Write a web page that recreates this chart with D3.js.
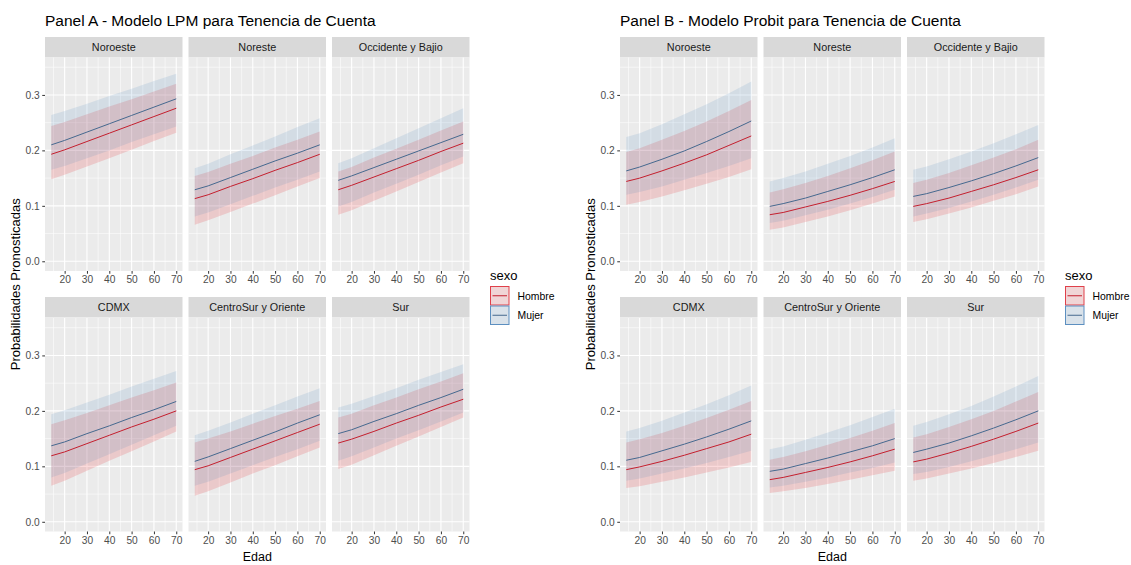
<!DOCTYPE html>
<html>
<head>
<meta charset="utf-8">
<script src="https://cdn.jsdelivr.net/npm/d3@7"></script>
<style>
  body { margin: 0; background: #fff; }
  svg { display: block; font-family: "Liberation Sans", Arial, sans-serif; }
</style>
</head>
<body>
<svg width="1131" height="565"></svg>
<script>
// data (rows follow the regions order)
const ages = [14, 20, 30, 40, 50, 60, 70];
const regions = ["Noroeste", "Noreste", "Occidente y Bajio", "CDMX", "CentroSur y Oriente", "Sur"];
const sexes = ["Hombre", "Mujer"];
const xTicks = [20, 30, 40, 50, 60, 70];
const yTicks = [0, 0.1, 0.2, 0.3];

// Panel A - LPM
const lpmHombreFit = [
  [0.193, 0.201, 0.216, 0.231, 0.246, 0.261, 0.276],
  [0.113, 0.120, 0.135, 0.149, 0.164, 0.178, 0.193],
  [0.129, 0.137, 0.152, 0.167, 0.182, 0.198, 0.213],
  [0.119, 0.126, 0.141, 0.156, 0.171, 0.185, 0.200],
  [0.094, 0.101, 0.116, 0.131, 0.146, 0.161, 0.176],
  [0.142, 0.149, 0.163, 0.178, 0.192, 0.207, 0.221]
];
const lpmHombreLo = [
  [0.148, 0.156, 0.171, 0.186, 0.201, 0.217, 0.232],
  [0.066, 0.074, 0.089, 0.104, 0.119, 0.135, 0.150],
  [0.084, 0.092, 0.109, 0.126, 0.143, 0.160, 0.177],
  [0.065, 0.074, 0.092, 0.110, 0.127, 0.145, 0.163],
  [0.047, 0.055, 0.071, 0.087, 0.102, 0.118, 0.134],
  [0.095, 0.103, 0.120, 0.137, 0.154, 0.171, 0.188]
];
const lpmHombreHi = [
  [0.244, 0.251, 0.265, 0.279, 0.292, 0.306, 0.320],
  [0.154, 0.161, 0.176, 0.190, 0.205, 0.219, 0.234],
  [0.162, 0.170, 0.187, 0.203, 0.219, 0.236, 0.252],
  [0.176, 0.183, 0.196, 0.210, 0.224, 0.237, 0.251],
  [0.143, 0.150, 0.163, 0.177, 0.191, 0.204, 0.218],
  [0.188, 0.195, 0.210, 0.224, 0.239, 0.253, 0.268]
];
const lpmMujerFit = [
  [0.210, 0.218, 0.233, 0.248, 0.263, 0.278, 0.293],
  [0.129, 0.136, 0.151, 0.166, 0.181, 0.195, 0.210],
  [0.146, 0.154, 0.169, 0.184, 0.199, 0.214, 0.229],
  [0.137, 0.144, 0.159, 0.173, 0.188, 0.202, 0.217],
  [0.109, 0.117, 0.132, 0.147, 0.162, 0.178, 0.193],
  [0.159, 0.166, 0.181, 0.195, 0.210, 0.224, 0.239]
];
const lpmMujerLo = [
  [0.165, 0.172, 0.186, 0.200, 0.215, 0.229, 0.243],
  [0.081, 0.088, 0.103, 0.118, 0.133, 0.147, 0.162],
  [0.099, 0.107, 0.124, 0.140, 0.156, 0.173, 0.189],
  [0.080, 0.088, 0.105, 0.122, 0.139, 0.156, 0.173],
  [0.065, 0.072, 0.087, 0.102, 0.117, 0.131, 0.146],
  [0.110, 0.118, 0.134, 0.150, 0.165, 0.181, 0.197]
];
const lpmMujerHi = [
  [0.264, 0.271, 0.284, 0.298, 0.311, 0.325, 0.338],
  [0.168, 0.176, 0.193, 0.209, 0.225, 0.242, 0.258],
  [0.177, 0.186, 0.204, 0.222, 0.240, 0.258, 0.276],
  [0.194, 0.201, 0.215, 0.229, 0.244, 0.258, 0.272],
  [0.156, 0.164, 0.179, 0.195, 0.210, 0.226, 0.241],
  [0.206, 0.213, 0.227, 0.241, 0.256, 0.270, 0.284]
];

// Panel B - Probit
const probitHombreFit = [
  [0.144, 0.150, 0.163, 0.177, 0.192, 0.209, 0.226],
  [0.084, 0.088, 0.098, 0.108, 0.119, 0.131, 0.144],
  [0.099, 0.104, 0.114, 0.126, 0.138, 0.151, 0.165],
  [0.094, 0.099, 0.109, 0.120, 0.132, 0.144, 0.158],
  [0.076, 0.080, 0.089, 0.098, 0.108, 0.119, 0.131],
  [0.108, 0.113, 0.124, 0.136, 0.149, 0.163, 0.178]
];
const probitHombreLo = [
  [0.102, 0.107, 0.117, 0.128, 0.140, 0.152, 0.166],
  [0.057, 0.061, 0.071, 0.081, 0.092, 0.104, 0.117],
  [0.071, 0.076, 0.086, 0.097, 0.109, 0.121, 0.135],
  [0.061, 0.064, 0.072, 0.080, 0.089, 0.098, 0.108],
  [0.052, 0.055, 0.061, 0.068, 0.076, 0.084, 0.092],
  [0.074, 0.078, 0.087, 0.096, 0.106, 0.117, 0.128]
];
const probitHombreHi = [
  [0.197, 0.204, 0.219, 0.235, 0.252, 0.271, 0.291],
  [0.124, 0.130, 0.141, 0.154, 0.168, 0.182, 0.198],
  [0.141, 0.147, 0.159, 0.173, 0.187, 0.202, 0.219],
  [0.143, 0.149, 0.160, 0.173, 0.187, 0.202, 0.218],
  [0.112, 0.117, 0.127, 0.139, 0.151, 0.164, 0.178],
  [0.152, 0.158, 0.171, 0.185, 0.200, 0.217, 0.234]
];
const probitMujerFit = [
  [0.163, 0.170, 0.184, 0.199, 0.216, 0.234, 0.253],
  [0.099, 0.104, 0.114, 0.126, 0.138, 0.151, 0.165],
  [0.117, 0.122, 0.133, 0.145, 0.158, 0.172, 0.187],
  [0.111, 0.116, 0.128, 0.140, 0.153, 0.167, 0.182],
  [0.091, 0.095, 0.105, 0.115, 0.126, 0.137, 0.150],
  [0.125, 0.131, 0.142, 0.155, 0.169, 0.184, 0.200]
];
const probitMujerLo = [
  [0.120, 0.125, 0.135, 0.147, 0.159, 0.172, 0.186],
  [0.069, 0.073, 0.083, 0.093, 0.104, 0.116, 0.129],
  [0.081, 0.086, 0.096, 0.108, 0.120, 0.133, 0.147],
  [0.074, 0.078, 0.087, 0.096, 0.106, 0.117, 0.128],
  [0.062, 0.065, 0.072, 0.080, 0.089, 0.097, 0.107],
  [0.086, 0.090, 0.099, 0.109, 0.120, 0.131, 0.143]
];
const probitMujerHi = [
  [0.224, 0.231, 0.247, 0.265, 0.283, 0.303, 0.324],
  [0.144, 0.150, 0.162, 0.176, 0.190, 0.205, 0.222],
  [0.165, 0.171, 0.184, 0.198, 0.213, 0.229, 0.246],
  [0.163, 0.169, 0.182, 0.197, 0.212, 0.228, 0.246],
  [0.131, 0.136, 0.148, 0.161, 0.174, 0.189, 0.204],
  [0.173, 0.180, 0.194, 0.209, 0.226, 0.244, 0.263]
];

const lineColor = { Hombre: "#C41F2E", Mujer: "#46698F" };
const fillColor = { Hombre: "#E41A1C", Mujer: "#377EB8" };
const keyBorder = { Hombre: "#E0404A", Mujer: "#5C8FC0" };

const svg = d3.select("svg");

// layout
const colX = [45, 188.5, 332];
const colW = 137.5;
const stripY = [37, 297];
const stripH = 20.5;
const panelY = [57.5, 318];
const panelH = 213.5;

const x = d3.scaleLinear().domain([14 - 2.8, 70 + 2.8]).range([0, colW]);
const y = d3.scaleLinear().domain([-0.0175, 0.3675]).range([panelH, 0]);

function makeSeries(fit, lo, hi) {
  return regions.map((r, ri) => ages.map((a, i) => ({ age: a, fit: fit[ri][i], lo: lo[ri][i], hi: hi[ri][i] })));
}

function drawPanel(offsetX, title, series) {
  const g = svg.append("g").attr("transform", `translate(${offsetX},0)`);

  g.append("text")
    .attr("x", 45).attr("y", 26)
    .attr("font-size", 15.5)
    .attr("fill", "#000")
    .text(title);

  const area = d3.area().x(d => x(d.age)).y0(d => y(d.lo)).y1(d => y(d.hi));
  const line = d3.line().x(d => x(d.age)).y(d => y(d.fit));

  regions.forEach((region, ri) => {
    const col = ri % 3, row = Math.floor(ri / 3);
    const px = colX[col], py = panelY[row];

    // strip
    g.append("rect")
      .attr("x", px).attr("y", stripY[row])
      .attr("width", colW).attr("height", stripH)
      .attr("fill", "#D9D9D9");
    g.append("text")
      .attr("x", px + colW / 2).attr("y", stripY[row] + stripH / 2)
      .attr("dy", "0.35em")
      .attr("text-anchor", "middle")
      .attr("font-size", 10.8)
      .attr("fill", "#1A1A1A")
      .text(region);

    const p = g.append("g").attr("transform", `translate(${px},${py})`);
    p.append("rect").attr("width", colW).attr("height", panelH).attr("fill", "#EBEBEB");

    // grid
    p.selectAll(".hmin").data(d3.range(0.05, 0.36, 0.1)).join("line")
      .attr("x1", 0).attr("x2", colW)
      .attr("y1", d => y(d)).attr("y2", d => y(d))
      .attr("stroke", "#fff").attr("stroke-width", 0.55);
    p.selectAll(".vmin").data(d3.range(15, 70, 10)).join("line")
      .attr("y1", 0).attr("y2", panelH)
      .attr("x1", d => x(d)).attr("x2", d => x(d))
      .attr("stroke", "#fff").attr("stroke-width", 0.55);
    p.selectAll(".hmaj").data(yTicks).join("line")
      .attr("x1", 0).attr("x2", colW)
      .attr("y1", d => y(d)).attr("y2", d => y(d))
      .attr("stroke", "#fff").attr("stroke-width", 1.1);
    p.selectAll(".vmaj").data(xTicks).join("line")
      .attr("y1", 0).attr("y2", panelH)
      .attr("x1", d => x(d)).attr("x2", d => x(d))
      .attr("stroke", "#fff").attr("stroke-width", 1.1);

    // ribbons
    sexes.forEach(s => {
      p.append("path")
        .datum(series[s][ri])
        .attr("d", area)
        .attr("fill", fillColor[s])
        .attr("fill-opacity", s === "Hombre" ? 0.16 : 0.13);
    });
    // lines
    sexes.forEach(s => {
      p.append("path")
        .datum(series[s][ri])
        .attr("d", line)
        .attr("fill", "none")
        .attr("stroke", lineColor[s])
        .attr("stroke-width", 1);
    });

    // x axis on every facet
    const xa = p.append("g")
      .attr("transform", `translate(0,${panelH})`)
      .call(d3.axisBottom(x).tickValues(xTicks).tickSize(2.75).tickPadding(2.5));
    styleAxis(xa);

    // y axis on the left column
    if (col === 0) {
      const ya = p.append("g")
        .call(d3.axisLeft(y).tickValues(yTicks).tickFormat(d3.format(".1f")).tickSize(2.75).tickPadding(2.5));
      styleAxis(ya);
    }
  });

  // axis titles
  g.append("text")
    .attr("transform", `translate(15,${(stripY[0] + panelY[1] + panelH) / 2}) rotate(-90)`)
    .attr("dy", "0.35em")
    .attr("text-anchor", "middle")
    .attr("font-size", 13)
    .attr("fill", "#000")
    .text("Probabilidades Pronosticadas");
  g.append("text")
    .attr("x", (colX[0] + colX[2] + colW) / 2).attr("y", 561)
    .attr("text-anchor", "middle")
    .attr("font-size", 12.5)
    .attr("fill", "#000")
    .text("Edad");

  // legend
  const lg = g.append("g").attr("transform", "translate(490,268)");
  lg.append("text").attr("x", 0).attr("y", 11.5).attr("font-size", 13).attr("fill", "#000").text("sexo");
  sexes.forEach((s, i) => {
    const ky = 18.5 + i * 19.5;
    lg.append("rect").attr("x", 0.5).attr("y", ky).attr("width", 18.5).attr("height", 18.5).attr("fill", "#F2F2F2");
    lg.append("rect").attr("x", 0.5).attr("y", ky).attr("width", 18.5).attr("height", 18.5)
      .attr("fill", fillColor[s]).attr("fill-opacity", 0.13)
      .attr("stroke", keyBorder[s]).attr("stroke-width", 1);
    lg.append("line").attr("x1", 2.5).attr("x2", 17).attr("y1", ky + 9.25).attr("y2", ky + 9.25)
      .attr("stroke", lineColor[s]).attr("stroke-width", 1);
    lg.append("text").attr("x", 27.5).attr("y", ky + 9.5).attr("dy", "0.35em")
      .attr("font-size", 10.4).attr("fill", "#000").text(s);
  });
}

function styleAxis(sel) {
  sel.select(".domain").remove();
  sel.selectAll(".tick line").attr("stroke", "#333333").attr("stroke-width", 1);
  sel.selectAll(".tick text").attr("fill", "#4D4D4D").attr("font-size", 10.2)
    .attr("font-family", "Liberation Sans, Arial, sans-serif");
}

drawPanel(0, "Panel A - Modelo LPM para Tenencia de Cuenta", {
  Hombre: makeSeries(lpmHombreFit, lpmHombreLo, lpmHombreHi),
  Mujer: makeSeries(lpmMujerFit, lpmMujerLo, lpmMujerHi)
});
drawPanel(575, "Panel B - Modelo Probit para Tenencia de Cuenta", {
  Hombre: makeSeries(probitHombreFit, probitHombreLo, probitHombreHi),
  Mujer: makeSeries(probitMujerFit, probitMujerLo, probitMujerHi)
});
</script>
</body>
</html>
